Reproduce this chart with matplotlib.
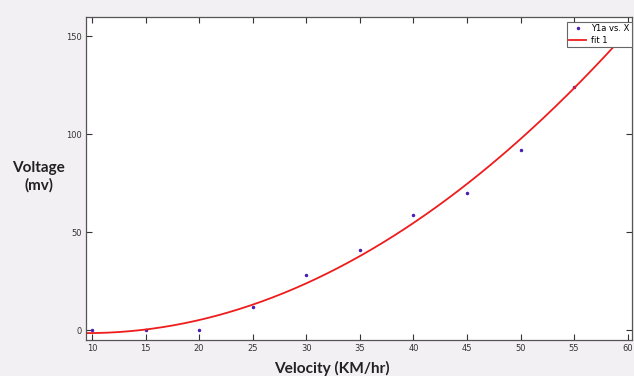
import numpy as np
import matplotlib.pyplot as plt

velocity = [10, 15, 20, 25, 30, 35, 40, 45, 50, 55, 60]
voltage = [0, 0, 0, 12, 28, 41, 58.7, 70, 92, 124, 155]

x_ticks = [10, 15, 20, 25, 30, 35, 40, 45, 50, 55, 60]
y_ticks = [0, 50, 100, 150]

# quadratic fit of the measured points
coef = np.polyfit(velocity, voltage, 2)

fig = plt.figure(figsize=(6.34, 3.76), dpi=100, facecolor='#f3f0f3')
ax = fig.add_axes([0.1356, 0.0957, 0.8612, 0.859])

xf = np.linspace(9.44, 60.4, 300)
ax.plot(velocity, voltage, '.', color='#4b1fb5', markersize=3, label='Y1a vs. X')
ax.plot(xf, np.polyval(coef, xf), color='#ee1c1c', linewidth=1.3, label='fit 1')

ax.set_xlim(9.44, 60.4)
ax.set_ylim(-5.1, 159.7)
ax.set_xticks(x_ticks)
ax.set_yticks(y_ticks)
ax.tick_params(direction='in', length=4, width=0.8, labelsize=6, colors='#333333',
               top=True, right=True, pad=3)
for s in ax.spines.values():
    s.set_color('#555555')
    s.set_linewidth(0.9)

leg = ax.legend(loc='upper right', fontsize=6, frameon=True, fancybox=False,
                borderpad=0.3, handlelength=2.0, labelspacing=0.3,
                handletextpad=0.6, borderaxespad=0,
                bbox_to_anchor=(1.0, 0.985), framealpha=1)
leg.get_frame().set_edgecolor('#666666')
leg.get_frame().set_linewidth(0.8)

fig.text(0.524, 0.021, 'Velocity (KM/hr)', ha='center', va='center',
         fontsize=11.1, fontweight='bold', family='Lato', color='#222222')
fig.text(0.061, 0.529, 'Voltage\n(mv)', ha='center', va='center',
         fontsize=11, fontweight='bold', family='Lato', color='#222222',
         linespacing=1.3)

fig.savefig('out.png', dpi=100, facecolor=fig.get_facecolor())
